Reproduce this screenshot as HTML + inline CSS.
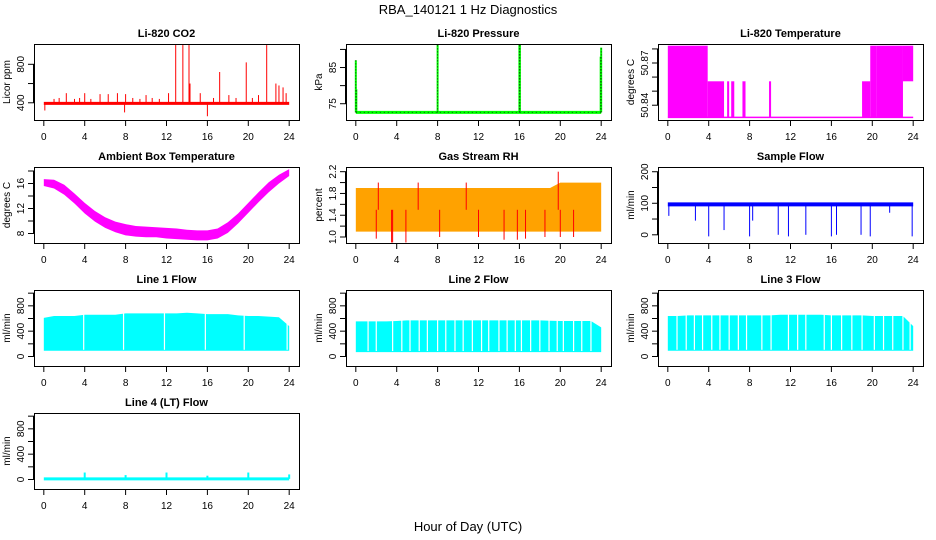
<!DOCTYPE html>
<html><head><meta charset="utf-8"><style>
body{margin:0;background:#fff}
svg{display:block;font-family:"Liberation Sans",Arial,sans-serif}
</style></head><body>
<svg id="c" width="936" height="540">
<text x="468" y="14" text-anchor="middle" font-size="13">RBA_140121  1 Hz Diagnostics</text>
<text x="468" y="531" text-anchor="middle" font-size="13">Hour of Day (UTC)</text>
</svg>
<script>
// ---- data ----
const hours=[0,1,2,3,4,5,6,7,8,9,10,11,12,13,14,15,16,17,18,19,20,21,22,23,24];
const xTicks=[0,4,8,12,16,20,24];
// CO2
const co2Lo=378, co2Hi=410;
const co2SpikeH=[0.1,1,1.5,2.2,3,3.5,4,4.6,5.5,6.3,7.2,7.9,8,8.7,9.4,10,10.6,11.3,12.2,12.9,13.6,14.2,14.3,15.3,16,16.6,17.2,18.1,18.8,19.8,20.4,21,21.8,22.7,23,23.4,23.7];
const co2SpikeV=[320,440,450,500,440,450,500,440,490,490,500,300,490,450,440,480,450,440,500,1000,1000,1000,600,500,260,450,720,480,450,820,450,480,1000,600,580,560,500];
// Pressure
const presBase=72.6;
const presSpikeH=[0,0.05,8,16,16.05,24,23.95];
const presSpikeV=[87,79,91.3,91.3,91.3,90.5,88];
// Li-820 temperature blocks
const tmpStart=[0,3.9,5.3,5.8,6.2,7.3,9.9,19,19.8,20.4,23.0];
const tmpEnd=[3.9,5.3,5.5,6,6.5,7.6,10.1,19.8,20.4,23.0,24];
const tmpLo=[50.8314,50.8314,50.8314,50.8314,50.8314,50.8314,50.8314,50.8314,50.8314,50.8314,50.857];
const tmpHi=[50.8823,50.857,50.857,50.857,50.857,50.857,50.857,50.857,50.8823,50.8823,50.8823];
const tmpBase=50.8314;
// Ambient box temp
const ambLo=[15.6,15.2,14.2,12.8,11.2,9.9,8.9,8.2,7.7,7.5,7.4,7.4,7.2,7.1,7.0,6.9,6.9,7.2,8.1,9.6,11.3,13.0,14.6,16.0,17.2];
const ambHi=[16.7,16.6,15.8,14.4,12.9,11.6,10.6,9.9,9.5,9.2,9.1,9.0,8.9,8.8,8.6,8.5,8.5,8.8,9.8,11.2,12.9,14.6,16.2,17.4,18.3];
// RH
const rhLo=[1.1,1.1,1.1,1.1,1.1,1.1,1.1,1.1,1.1,1.1,1.1,1.1,1.1,1.1,1.1,1.1,1.1,1.1,1.1,1.1,1.1,1.1,1.1,1.1,1.1];
const rhHi=[1.9,1.9,1.9,1.9,1.9,1.9,1.9,1.9,1.9,1.9,1.9,1.9,1.9,1.9,1.9,1.9,1.9,1.9,1.9,1.9,2.0,2.0,2.0,2.0,2.0];
const rhSpikeH=[2,3.5,3.6,4.9,8.2,12,14.5,15.8,16.6,18.5,19.8,20,21.3,2.2,6.1,10.8];
const rhSpikeV=[0.97,0.9,0.9,0.9,1.0,1.0,0.95,0.95,0.97,1.0,2.2,1.0,1.0,2.0,2.0,2.0];
// Sample flow
const sfLo=90, sfHi=103;
const sfDipH=[0.1,2.7,4,5.5,8,8.3,10.8,11.8,13.5,16,16.5,18.9,19.8,21.7,23.9];
const sfDipV=[60,45,-5,15,-5,45,0,-5,0,-5,0,0,-5,70,-5];
// Line flows
const l1Lo=90;
const l1Hi=[610,640,640,640,660,660,660,660,680,680,680,680,680,680,690,680,670,670,670,650,640,640,630,620,480];
const l1Gap=[3.9,7.8,11.8,15.8,19.6,23.8];
const l2Lo=70;
const l2Hi=[555,555,555,555,560,570,570,570,570,570,570,570,570,570,570,570,570,570,570,565,560,560,560,560,460];
const l2Gap=[1.2,2,3.6,4.5,5.3,6.2,7,8,8.8,9.7,10.5,11.4,12.3,13,14,14.8,15.6,16.2,17.1,18,18.9,19.7,20.3,21.3,22.1,23];
const l3Lo=90;
const l3Hi=[640,640,650,650,650,650,650,650,650,650,650,660,660,660,660,660,650,650,650,650,640,640,640,640,480];
const l3Gap=[0.9,1.8,2.6,3.4,4.3,5.1,6,6.9,7.7,9.2,10.1,11.8,12.7,13.5,15.3,16,17,18,19,20.2,21.1,22,23,23.7];
const l4Base=10;
const l4SpikeH=[4,8,12,16,20,24];
const l4SpikeV=[110,70,110,60,110,80];

// ---- helpers ----
const svg=document.getElementById('c');
const NS='http://www.w3.org/2000/svg';
function mk(tag,at,parent){const e=document.createElementNS(NS,tag);for(const k in at)e.setAttribute(k,at[k]);(parent||svg).appendChild(e);return e;}
const colX=[34,346,658], rowY=[44,167,290,413], W=265, H=76;
function panel(name,col,row,title,ylab,ylim,yt,ylbl,dec){
  const g=mk('g',{});
  
  
  const x0=colX[col],y0=rowY[row];
  const X=h=>x0+(h+0.96)/25.92*W;
  const Y=v=>y0+H-(v-ylim[0])/(ylim[1]-ylim[0])*H;
  const t=mk('text',{x:x0+W/2,y:y0-7,'text-anchor':'middle','font-size':11,'font-weight':'bold'},g);t.textContent=title;
  
  
  const yl=mk('text',{transform:`translate(${x0-24},${y0+H/2}) rotate(-90)`,'text-anchor':'middle','font-size':10},g);yl.textContent=ylab;
  
  
  const ax=mk('g',{stroke:'#000','stroke-width':1},g);
  
  
  mk('line',{x1:X(0),x2:X(24),y1:y0+H+0.5,y2:y0+H+0.5},ax);
  xTicks.forEach(h=>{mk('line',{x1:X(h),x2:X(h),y1:y0+H,y2:y0+H+6},ax);
    const l=mk('text',{x:X(h),y:y0+H+20,'text-anchor':'middle','font-size':10,stroke:'none'},ax);l.textContent=h;});
  mk('line',{x1:x0-0.5,x2:x0-0.5,y1:Y(yt[0]),y2:Y(yt[yt.length-1])},ax);
  yt.forEach(v=>{mk('line',{x1:x0-6,x2:x0,y1:Y(v),y2:Y(v)},ax);
    if(ylbl.some(u=>Math.abs(u-v)<1e-9)){const l=mk('text',{transform:`translate(${x0-10},${Y(v)}) rotate(-90)`,'text-anchor':'middle','font-size':10,stroke:'none'},ax);l.textContent=dec?v.toFixed(dec):v;}});
  const d=mk('g',{},g);
  
  
  mk('rect',{x:x0+0.5,y:y0+0.5,width:W,height:H,fill:'none',stroke:'#000'},g);
  return {X,Y,d};
}
function band(p,hs,lo,hi,col){
  let pts=hs.map((h,i)=>p.X(h)+','+p.Y(typeof hi==='number'?hi:hi[i])).join(' ');
  pts+=' '+hs.slice().reverse().map((h,j)=>{const i=hs.length-1-j;return p.X(h)+','+p.Y(typeof lo==='number'?lo:lo[i]);}).join(' ');
  return mk('polygon',{points:pts,fill:col},p.d);
}
function spikes(p,hs,vs,base,col,w,dash){hs.forEach((h,i)=>{const a={x1:p.X(h),x2:p.X(h),y1:p.Y(base),y2:p.Y(vs[i]),stroke:col,'stroke-width':w||1};if(dash)a['stroke-dasharray']=dash;mk('line',a,p.d);});}

// CO2
let p=panel('co2',0,0,'Li-820 CO2','Licor ppm',[221,1011],[400,600,800],[400,800]);
band(p,[0,24],co2Lo,co2Hi,'#f00');spikes(p,co2SpikeH,co2SpikeV,395,'#f00');
// Pressure
p=panel('pressure',1,0,'Li-820 Pressure','kPa',[70.5,91.5],[75,80,85,90],[75,85]);
mk('line',{x1:p.X(0),x2:p.X(24),y1:p.Y(presBase),y2:p.Y(presBase),stroke:'#0f0','stroke-width':3},p.d);
mk('line',{x1:p.X(0),x2:p.X(24),y1:p.Y(presBase),y2:p.Y(presBase),stroke:'#060','stroke-width':1,'stroke-dasharray':'1,3'},p.d);
spikes(p,presSpikeH,presSpikeV,presBase,'#0f0',2);spikes(p,presSpikeH,presSpikeV,presBase,'#030',1,'1,2');
// Temperature
p=panel('li820-temperature',2,0,'Li-820 Temperature','degrees C',[50.8295,50.8835],[50.84,50.85,50.86,50.87,50.88],[50.84,50.87],2);
mk('line',{x1:p.X(0),x2:p.X(24),y1:p.Y(tmpBase),y2:p.Y(tmpBase),stroke:'#f0f','stroke-width':1.5},p.d);
tmpStart.forEach((s,i)=>mk('rect',{x:p.X(s),y:p.Y(tmpHi[i]),width:Math.max(1,p.X(tmpEnd[i])-p.X(s)),height:p.Y(tmpLo[i])-p.Y(tmpHi[i]),fill:'#f0f'},p.d));
// Ambient
p=panel('ambient-box-temperature',0,1,'Ambient Box Temperature','degrees C',[6.48,18.64],[8,10,12,14,16,18],[8,12,16]);
band(p,hours,ambLo,ambHi,'#f0f');
// RH
p=panel('gas-stream-rh',1,1,'Gas Stream RH','percent',[0.89,2.286],[1.0,1.2,1.4,1.6,1.8,2.0,2.2],[1.0,1.4,1.8,2.2],1);
band(p,hours,rhLo,rhHi,'#ffa200');
spikes(p,rhSpikeH,rhSpikeV,1.5,'#f00');
// Sample flow
p=panel('sample-flow',2,1,'Sample Flow','ml/min',[-26,215],[0,50,100,150,200],[0,100,200]);
band(p,[0,24],sfLo,sfHi,'#00f');spikes(p,sfDipH,sfDipV,97,'#00f');
// Line flows
function lineFlow(name,col,row,title,lo,hi,gaps){
  const q=panel(name,col,row,title,'ml/min',[-150,1050],[0,200,400,600,800,1000],[0,400,800]);
  band(q,hours,lo,hi,'#0ff');
  gaps.forEach(h=>mk('line',{x1:q.X(h),x2:q.X(h),y1:q.Y(lo)-1,y2:q.Y(800),stroke:'#fff','stroke-width':1.2},q.d));
  return q;
}
lineFlow('line-1-flow',0,2,'Line 1 Flow',l1Lo,l1Hi,l1Gap);
lineFlow('line-2-flow',1,2,'Line 2 Flow',l2Lo,l2Hi,l2Gap);
lineFlow('line-3-flow',2,2,'Line 3 Flow',l3Lo,l3Hi,l3Gap);
p=panel('line-4-flow',0,3,'Line 4 (LT) Flow','ml/min',[-150,1050],[0,200,400,600,800,1000],[0,400,800]);
mk('line',{x1:p.X(0),x2:p.X(24),y1:p.Y(l4Base),y2:p.Y(l4Base),stroke:'#0ff','stroke-width':3},p.d);
spikes(p,l4SpikeH,l4SpikeV,l4Base,'#0ff',2);
</script>
</body></html>
